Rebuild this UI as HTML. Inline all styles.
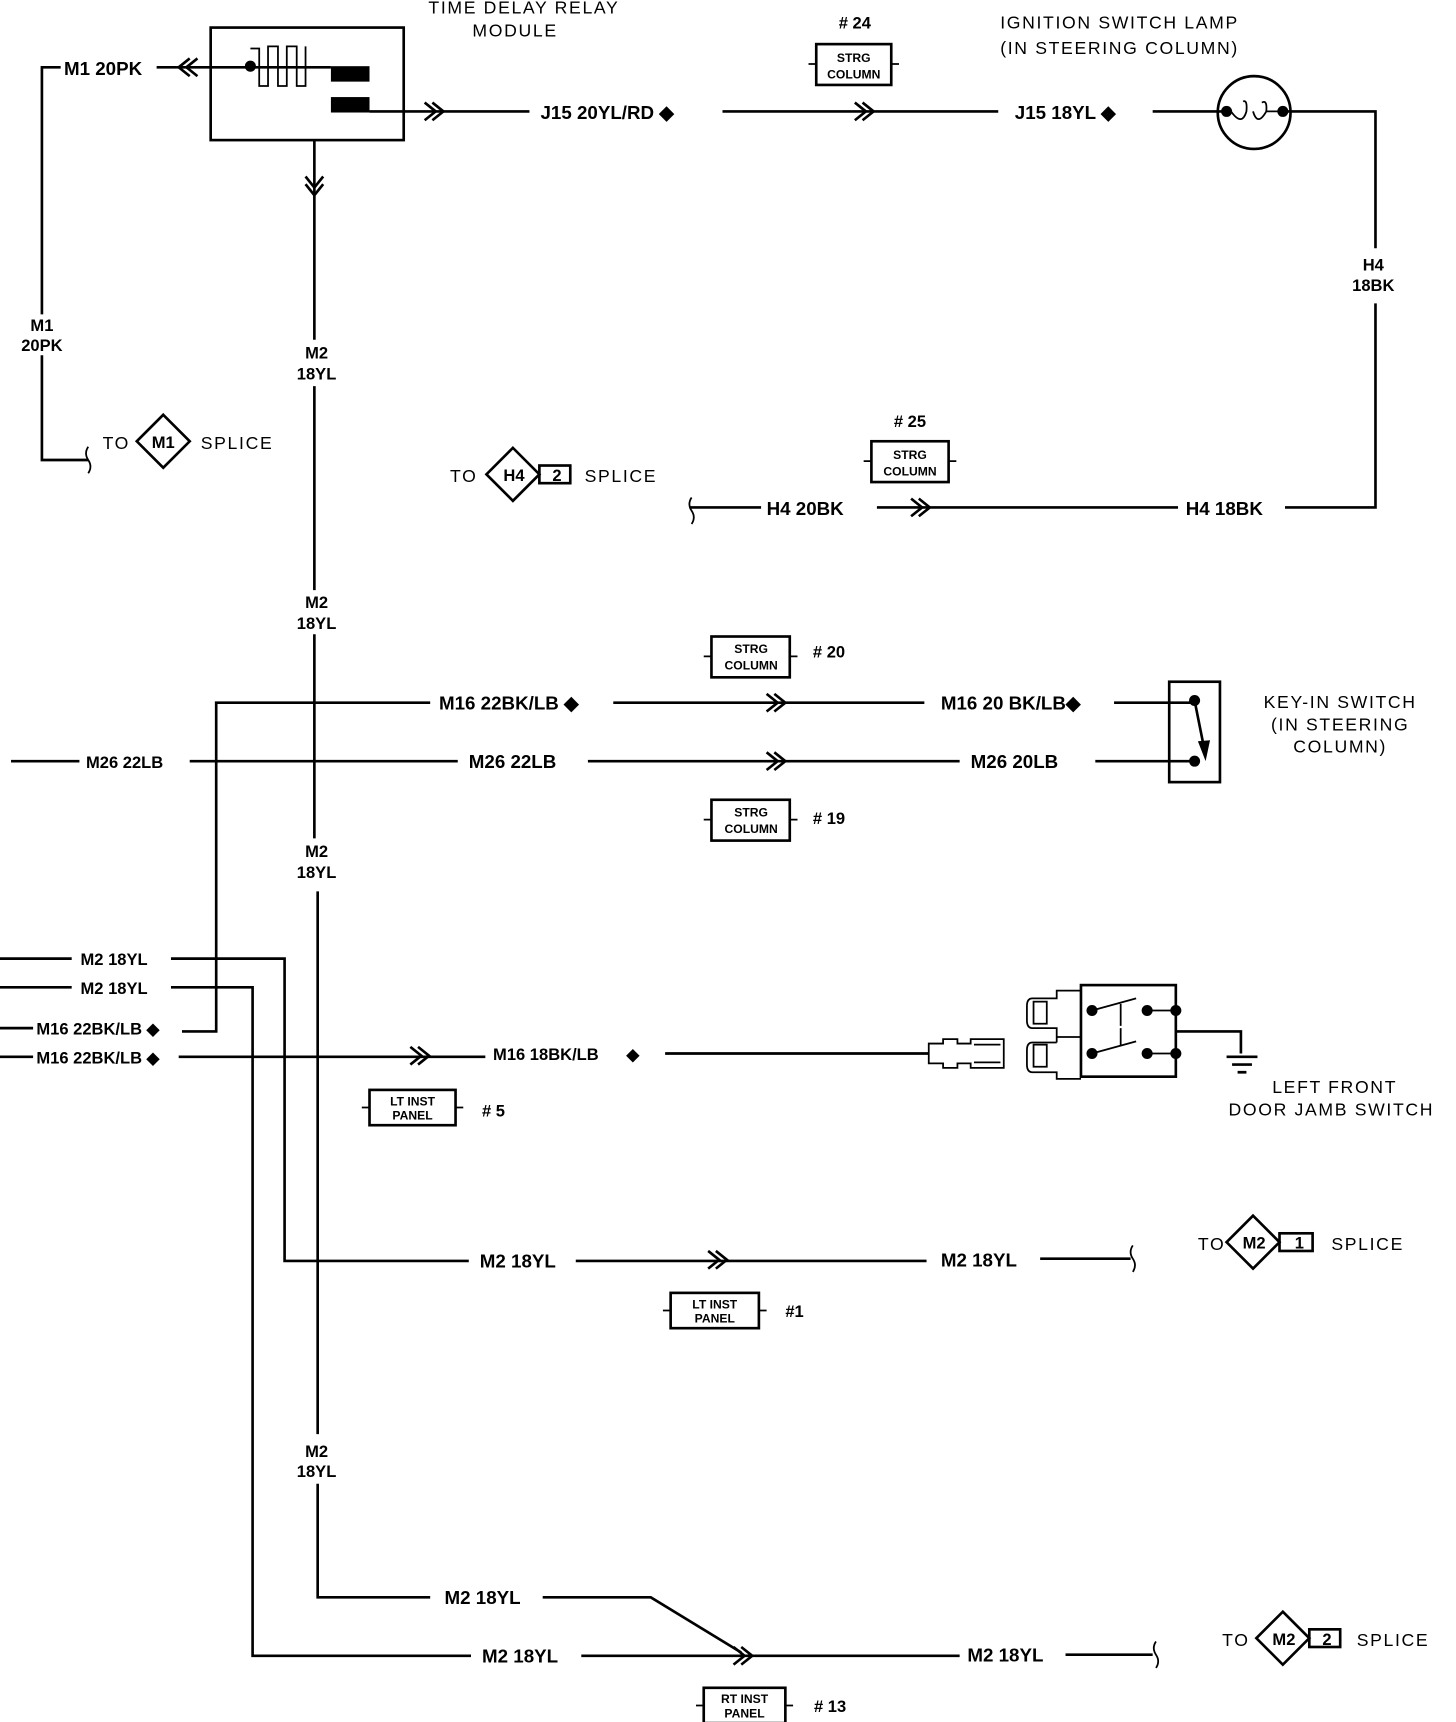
<!DOCTYPE html>
<html><head><meta charset="utf-8"><style>
html,body{margin:0;padding:0;background:#fff;}
svg{display:block;}
text{font-family:"Liberation Sans",sans-serif;font-weight:bold;fill:#000;}
.w{stroke:#000;stroke-width:2.4;fill:none;}
.t{stroke:#000;stroke-width:1.6;fill:none;}
.lb{font-size:17px;}
.sm{font-size:15px;}
.hd{font-size:16px;letter-spacing:1.5px;font-weight:normal;}
.bx{font-size:11px;}
</style></head><body>
<svg width="1456" height="1722" viewBox="0 0 1320 1561" preserveAspectRatio="none" xmlns="http://www.w3.org/2000/svg">
<defs>
<g id="chev"><path class="w" d="M-10,-8 L0,0 L-10,8 M-3,-8 L7,0 L-3,8"/></g>
<g id="sq"><path class="t" d="M0,-12 Q-4,-6 0,0 Q4,6 0,12"/></g>
</defs>

<!-- titles -->
<text class="hd" x="475" y="12" text-anchor="middle">TIME DELAY RELAY</text>
<text class="hd" x="467" y="33" text-anchor="middle">MODULE</text>
<text class="hd" x="1015" y="26" text-anchor="middle">IGNITION SWITCH LAMP</text>
<text class="hd" x="1015" y="49" text-anchor="middle">(IN STEERING COLUMN)</text>

<!-- relay -->
<rect class="w" x="191" y="25" width="175" height="102"/>
<path class="t" d="M227,44 h8 v34 h8 v-36 h9 v36 h8 v-36 h9 v36 h8 v-36"/>
<circle cx="227" cy="60" r="5"/>
<path class="w" d="M160,61 H300"/>
<rect x="300" y="60" width="35" height="14"/>
<rect x="300" y="88" width="35" height="14"/>
<path class="w" d="M335,101 H480"/>
<use href="#chev" x="395" y="101"/>
<path class="w" d="M172,53 L162,61 L172,69 M179,53 L169,61 L179,69"/>

<!-- M1 -->
<path class="w" d="M55,61 H38 V285 M38,322 V417 H80"/>
<text class="lb" x="58" y="68">M1 20PK</text>
<path class="w" d="M142,61 H160"/>
<text class="sm" x="38" y="300" text-anchor="middle">M1</text>
<text class="sm" x="38" y="318" text-anchor="middle">20PK</text>
<use href="#sq" x="80" y="417"/>
<text class="hd" x="93" y="407">TO</text>
<path class="w" d="M148,376 L172,400 L148,424 L124,400 Z"/>
<text class="sm" x="148" y="406" text-anchor="middle">M1</text>
<text class="hd" x="182" y="407">SPLICE</text>

<!-- M2 vertical -->
<path class="w" d="M285,127 V308 M285,350 V535 M285,575 V760 M288,808 V1300 M288,1345 V1448 H390"/>
<path class="w" d="M277,160 L285,170 L293,160 M277,167 L285,177 L293,167"/>
<text class="sm" x="287" y="325" text-anchor="middle">M2</text>
<text class="sm" x="287" y="344" text-anchor="middle">18YL</text>
<text class="sm" x="287" y="551" text-anchor="middle">M2</text>
<text class="sm" x="287" y="570" text-anchor="middle">18YL</text>
<text class="sm" x="287" y="777" text-anchor="middle">M2</text>
<text class="sm" x="287" y="796" text-anchor="middle">18YL</text>
<text class="sm" x="287" y="1321" text-anchor="middle">M2</text>
<text class="sm" x="287" y="1339" text-anchor="middle">18YL</text>

<!-- J15 -->
<text class="lb" x="490" y="108">J15 20YL/RD ◆</text>
<path class="w" d="M655,101 H905"/>
<use href="#chev" x="785" y="101"/>
<text class="lb" x="920" y="108">J15 18YL ◆</text>
<path class="w" d="M1045,101 H1108"/>
<circle class="w" cx="1137" cy="102" r="33"/>
<circle cx="1112" cy="101" r="5"/><circle cx="1163" cy="101" r="5"/>
<path class="t" d="M1116,101 Q1126,115 1130,101 Q1131,90 1127,92 M1136,101 Q1140,115 1148,101 Q1149,90 1144,93 M1148,101 H1160"/>
<path class="w" d="M1166,101 H1247 V225 M1247,275 V460 H1165"/>
<text class="sm" x="1245" y="245" text-anchor="middle">H4</text>
<text class="sm" x="1245" y="264" text-anchor="middle">18BK</text>
<text class="lb" x="1075" y="467">H4 18BK</text>
<path class="w" d="M625,460 H690 M795,460 H1068"/>
<use href="#chev" x="836" y="460"/>
<text class="lb" x="695" y="467">H4 20BK</text>
<use href="#sq" x="627" y="463"/>

<!-- STRG boxes -->
<g>
<text class="sm" x="775" y="26" text-anchor="middle"># 24</text>
<rect class="w" x="740" y="40" width="68" height="37"/><path class="t" d="M733,58 H740 M808,58 H815"/>
<text class="bx" x="774" y="56" text-anchor="middle">STRG</text><text class="bx" x="774" y="71" text-anchor="middle">COLUMN</text>
</g>
<g>
<text class="sm" x="825" y="387" text-anchor="middle"># 25</text>
<rect class="w" x="790" y="400" width="70" height="37"/><path class="t" d="M783,418 H790 M860,418 H867"/>
<text class="bx" x="825" y="416" text-anchor="middle">STRG</text><text class="bx" x="825" y="431" text-anchor="middle">COLUMN</text>
</g>
<text class="hd" x="408" y="437">TO</text>
<path class="w" d="M465,406 L489,430 L465,454 L441,430 Z"/>
<rect class="w" x="489" y="422" width="28" height="16"/>
<text class="sm" x="466" y="436" text-anchor="middle">H4</text>
<text class="sm" x="505" y="436" text-anchor="middle">2</text>
<text class="hd" x="530" y="437">SPLICE</text>

<g>
<rect class="w" x="645" y="577" width="71" height="37"/><path class="t" d="M638,595 H645 M716,595 H723"/>
<text class="bx" x="681" y="592" text-anchor="middle">STRG</text><text class="bx" x="681" y="607" text-anchor="middle">COLUMN</text>
<text class="sm" x="737" y="596"># 20</text>
</g>
<g>
<rect class="w" x="645" y="725" width="71" height="37"/><path class="t" d="M638,743 H645 M716,743 H723"/>
<text class="bx" x="681" y="740" text-anchor="middle">STRG</text><text class="bx" x="681" y="755" text-anchor="middle">COLUMN</text>
<text class="sm" x="737" y="747"># 19</text>
</g>

<!-- M16 / M26 -->
<path class="w" d="M165,935 H196 V637 H390 M556,637 H838 M1010,637 H1083"/>
<use href="#chev" x="705" y="637"/>
<text class="lb" x="398" y="643">M16 22BK/LB ◆</text>
<text class="lb" x="853" y="643">M16 20 BK/LB◆</text>
<path class="w" d="M10,690 H72 M172,690 H415 M533,690 H870 M993,690 H1083"/>
<use href="#chev" x="705" y="690"/>
<text class="sm" x="78" y="696">M26 22LB</text>
<text class="lb" x="425" y="696">M26 22LB</text>
<text class="lb" x="880" y="696">M26 20LB</text>
<rect class="w" x="1060" y="618" width="46" height="91"/>
<circle cx="1083" cy="635" r="5"/><circle cx="1083" cy="690" r="5"/>
<path class="w" d="M1083,635 L1092,680"/><path d="M1086,672 L1093,690 L1097,671 Z"/>
<text class="hd" x="1215" y="642" text-anchor="middle">KEY-IN SWITCH</text>
<text class="hd" x="1215" y="662" text-anchor="middle">(IN STEERING</text>
<text class="hd" x="1215" y="682" text-anchor="middle">COLUMN)</text>

<!-- left side -->
<path class="w" d="M0,869 H65 M155,869 H258 V1143 H425 M522,1143 H840 M943,1141 H1025"/>
<use href="#chev" x="652" y="1142"/>
<text class="sm" x="73" y="875">M2 18YL</text>
<text class="lb" x="435" y="1149">M2 18YL</text>
<text class="lb" x="853" y="1148">M2 18YL</text>
<use href="#sq" x="1027" y="1141"/>
<path class="w" d="M0,895 H65 M155,895 H229 V1501 H427 M527,1501 H870 M966,1500 H1045"/>
<text class="sm" x="73" y="901">M2 18YL</text>
<text class="lb" x="437" y="1507">M2 18YL</text>
<text class="lb" x="877" y="1506">M2 18YL</text>
<use href="#sq" x="1048" y="1500"/>
<use href="#chev" x="675" y="1501"/>
<path class="w" d="M492,1448 H590 L672,1498"/>
<text class="lb" x="403" y="1454">M2 18YL</text>
<path class="w" d="M30,932 H0"/>
<text class="sm" x="33" y="938">M16 22BK/LB ◆</text>
<path class="w" d="M30,958 H0 M162,958 H440 M603,955 H842"/>
<text class="sm" x="33" y="964">M16 22BK/LB ◆</text>
<use href="#chev" x="382" y="957"/>
<text class="sm" x="447" y="961">M16 18BK/LB</text>
<text class="sm" x="568" y="961">◆</text>

<!-- connector + door switch -->
<path class="t" d="M842,946 H855 V942 H868 V946 H880 V942 H910 V968 H880 V964 H868 V968 H855 V964 H842 Z M883,947 H907 M883,963 H907"/>
<rect class="w" x="980" y="893" width="86" height="83"/>
<path class="t" d="M980,898 H958 V905 H936 Q931,905 931,912 V925 Q931,932 936,932 H958 V940 H980 M958,940 V945 M958,945 H936 Q931,945 931,952 V965 Q931,972 936,972 H958 V978 H980"/>
<rect class="t" x="937" y="908" width="12" height="20"/><rect class="t" x="937" y="947" width="12" height="20"/>
<circle cx="990" cy="916" r="5"/><circle cx="1040" cy="916" r="5"/><circle cx="1066" cy="916" r="5"/>
<circle cx="990" cy="955" r="5"/><circle cx="1040" cy="955" r="5"/><circle cx="1066" cy="955" r="5"/>
<path class="t" d="M990,916 L1030,905 M990,955 L1030,944 M1016,910 V930 M1016,932 V948 M1040,916 H1066 M1040,955 H1066"/>
<path class="w" d="M1066,935 H1125 V955 M1112,958 H1140 M1117,965 H1135 M1122,972 H1130"/>
<text class="hd" x="1210" y="991" text-anchor="middle">LEFT FRONT</text>
<text class="hd" x="1207" y="1011" text-anchor="middle">DOOR JAMB SWITCH</text>

<!-- panel boxes -->
<g>
<rect class="w" x="335" y="988" width="78" height="32"/><path class="t" d="M328,1004 H335 M413,1004 H420"/>
<text class="bx" x="374" y="1002" text-anchor="middle">LT INST</text><text class="bx" x="374" y="1015" text-anchor="middle">PANEL</text>
<text class="sm" x="437" y="1012"># 5</text>
</g>
<g>
<rect class="w" x="608" y="1172" width="80" height="32"/><path class="t" d="M601,1188 H608 M688,1188 H695"/>
<text class="bx" x="648" y="1186" text-anchor="middle">LT INST</text><text class="bx" x="648" y="1199" text-anchor="middle">PANEL</text>
<text class="sm" x="712" y="1194">#1</text>
</g>
<g>
<rect class="w" x="638" y="1530" width="74" height="32"/><path class="t" d="M631,1546 H638 M712,1546 H719"/>
<text class="bx" x="675" y="1544" text-anchor="middle">RT INST</text><text class="bx" x="675" y="1557" text-anchor="middle">PANEL</text>
<text class="sm" x="738" y="1552"># 13</text>
</g>

<!-- splices -->
<text class="hd" x="1086" y="1133">TO</text>
<path class="w" d="M1136,1102 L1160,1126 L1136,1150 L1112,1126 Z"/>
<rect class="w" x="1160" y="1118" width="30" height="16"/>
<text class="sm" x="1137" y="1132" text-anchor="middle">M2</text>
<text class="sm" x="1178" y="1132" text-anchor="middle">1</text>
<text class="hd" x="1207" y="1133">SPLICE</text>
<text class="hd" x="1108" y="1492">TO</text>
<path class="w" d="M1163,1461 L1187,1485 L1163,1509 L1139,1485 Z"/>
<rect class="w" x="1187" y="1477" width="28" height="16"/>
<text class="sm" x="1164" y="1491" text-anchor="middle">M2</text>
<text class="sm" x="1203" y="1491" text-anchor="middle">2</text>
<text class="hd" x="1230" y="1492">SPLICE</text>
</svg>
</body></html>
